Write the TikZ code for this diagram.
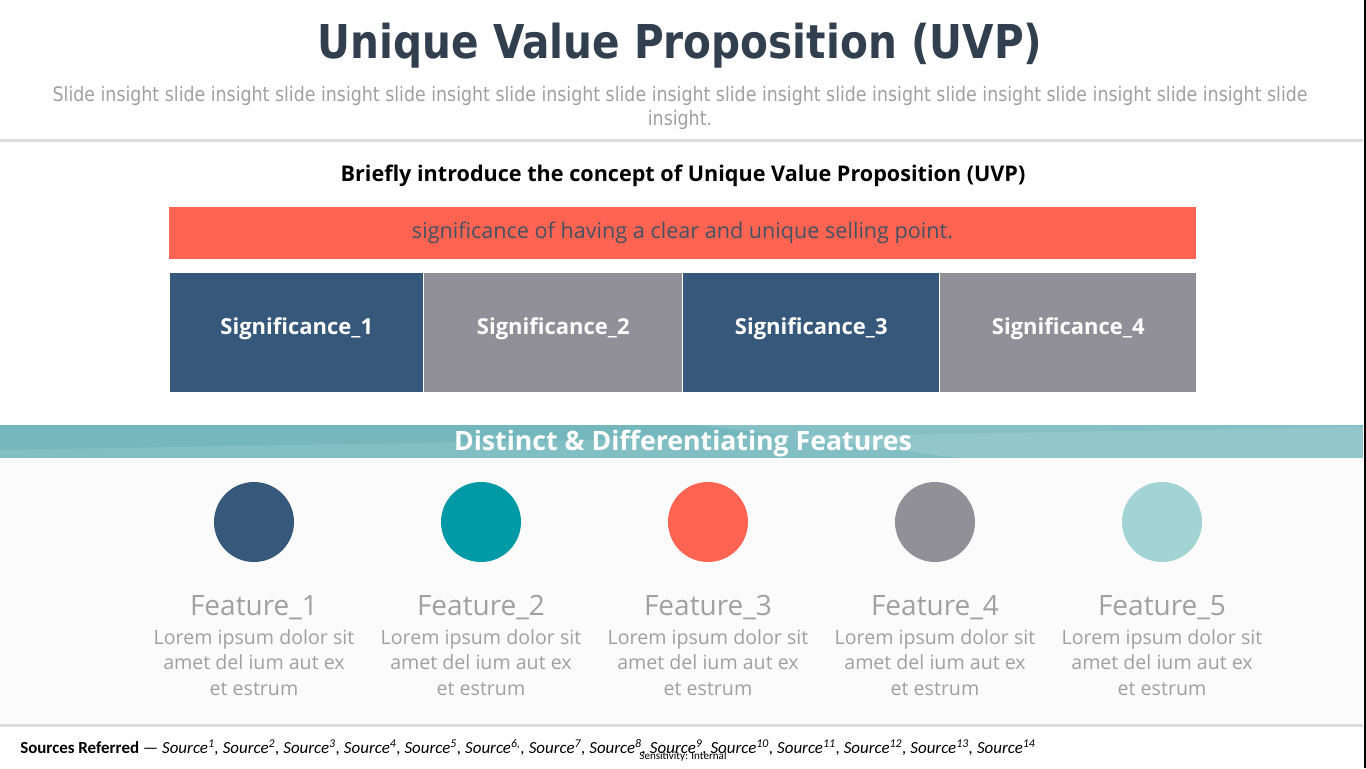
\documentclass[tikz,border=0pt]{standalone}
\usepackage{fontspec}
\setmainfont{Open Sans}
\newfontfamily\tahoma[FakeStretch=0.87]{DejaVu Sans}
\newfontfamily\calibri{Carlito}
\usetikzlibrary{positioning}

\definecolor{uvpnavy}{HTML}{36587A}
\definecolor{uvpgrey}{HTML}{918F98}
\definecolor{uvpcoral}{HTML}{FF6452}
\definecolor{uvpteal}{HTML}{009AA6}
\definecolor{uvpmint}{HTML}{A2D4D6}
\definecolor{uvptitle}{HTML}{323F4F}
\definecolor{uvptext}{HTML}{A0A0A0}
\definecolor{uvprule}{HTML}{DCDCDC}
\definecolor{uvpband}{HTML}{74B8BE}
\definecolor{uvpfaint}{HTML}{FBFBFB}

\tikzset{
  sigbox/.style={fill=#1, text=white, anchor=north west, inner sep=0pt,
    minimum height=89.25pt, text height=12pt, text depth=9pt,
    font=\fontsize{16.5}{20}\selectfont\bfseries},
  featdot/.style={circle, fill=#1, minimum size=60pt, inner sep=0pt},
  featname/.style={text=uvptext, font=\fontsize{21}{25}\selectfont},
  featdesc/.style={text=uvptext, align=center, font=\fontsize{14.7}{19}\selectfont}
}

\begin{document}
\begin{tikzpicture}[x=0.75pt,y=-0.75pt]
  \useasboundingbox (0,0) rectangle (1366,768);
  \fill[white] (0,0) rectangle (1366,768);
  \fill[uvpfaint] (0,458) rectangle (1363,724);
  % rules and edge
  \fill[uvprule] (0,139) rectangle (1363,142);
  \fill[uvprule] (0,724) rectangle (1363,727);
  \fill[black] (1364,0) rectangle (1366,768);

  % heading
  \node[text=uvptitle, font=\tahoma\fontsize{35}{40}\selectfont\bfseries] (title) at (680,46) {Unique Value Proposition (UVP)};
  \node[align=center, text=uvptext, font=\tahoma\fontsize{15}{18}\selectfont] (insight) at (680,108)
    {Slide insight slide insight slide insight slide insight slide insight slide insight slide insight slide insight slide insight slide insight slide insight slide\\ insight.};

  \node[font=\fontsize{16.2}{19}\selectfont\bfseries] (brief) at (683,176) {Briefly introduce the concept of Unique Value Proposition (UVP)};
  \node[fill=uvpcoral, minimum width=770.25pt, minimum height=39pt, text=uvptitle!90,
    font=\fontsize{16.2}{20}\selectfont] (point) at (682.5,233)
    {significance of having a clear and unique selling point.};

  % significance blocks
  \node[sigbox=uvpnavy, minimum width=189.75pt] (sig1) at (170,273) {Significance\_1};
  \node[sigbox=uvpgrey, minimum width=193.5pt] (sig2) at (424,273) {Significance\_2};
  \node[sigbox=uvpnavy, minimum width=192pt] (sig3) at (683,273) {Significance\_3};
  \node[sigbox=uvpgrey, minimum width=192pt] (sig4) at (940,273) {Significance\_4};

  % band
  \fill[uvpband] (0,425) rectangle (1363,458);
  \fill[white, opacity=0.10] (0,450) -- (1363,427) -- (1363,458) -- (0,458) -- cycle;
  \fill[white, opacity=0.12] (700,425) -- (1363,425) -- (1363,458) -- (960,458) -- cycle;
  \node[text=white, font=\fontsize{20}{24}\selectfont\bfseries] (band) at (683,443)
    {Distinct \& Differentiating Features};

  % features
  \foreach \i/\x/\c in {1/254/uvpnavy, 2/481/uvpteal, 3/708/uvpcoral, 4/935/uvpgrey, 5/1162/uvpmint} {
    \node[featdot=\c] (dot\i) at (\x,522) {};
    \node[featname] (fname\i) at (\x,608) {Feature\_\i};
    \node[featdesc, below=0pt of fname\i] (fdesc\i) {Lorem ipsum dolor sit\\amet del ium aut ex\\et estrum};
  }

  % footer
  \node[anchor=base west, inner sep=0pt, font=\calibri\fontsize{12.7}{15}\selectfont] (sources) at (20,753)
    {\textbf{Sources Referred} — \textit{Source\textsuperscript{1}, Source\textsuperscript{2}, Source\textsuperscript{3}, Source\textsuperscript{4}, Source\textsuperscript{5}, Source\textsuperscript{6,}, Source\textsuperscript{7}, Source\textsuperscript{8}, Source\textsuperscript{9}, Source\textsuperscript{10}, Source\textsuperscript{11}, Source\textsuperscript{12}, Source\textsuperscript{13}, Source\textsuperscript{14}}};
  \node[inner sep=0pt, font=\calibri\fontsize{8.3}{9}\selectfont] (label) at (683,757) {Sensitivity: Internal};
\end{tikzpicture}
\end{document}
